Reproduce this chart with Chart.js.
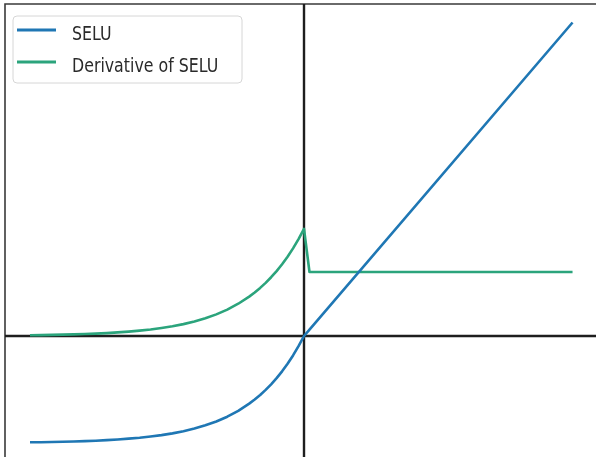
<!DOCTYPE html>
<html>
<head>
<meta charset="utf-8">
<script src="https://cdn.jsdelivr.net/npm/chart.js@4/dist/chart.umd.min.js"></script>
<style>
html,body{margin:0;padding:0;background:#fff;overflow:hidden;}
#wrap{width:596px;height:457px;position:relative;}
</style>
</head>
<body>
<div id="wrap"><canvas id="c" width="596" height="457"></canvas></div>
<script>
const xValues = [-5.0,-4.8,-4.6,-4.4,-4.2,-4.0,-3.8,-3.6,-3.4,-3.2,-3.0,-2.8,-2.6,-2.4,-2.2,-2.0,-1.8,-1.6,-1.4,-1.2,-1.0,-0.9,-0.8,-0.7,-0.6,-0.5,-0.4,-0.3,-0.2,-0.1,0.0,0.1,4.9];
const seluValues = [-1.746,-1.744,-1.740,-1.736,-1.732,-1.726,-1.719,-1.710,-1.699,-1.686,-1.671,-1.651,-1.628,-1.599,-1.563,-1.520,-1.467,-1.403,-1.325,-1.229,-1.111,-1.043,-0.968,-0.885,-0.793,-0.692,-0.580,-0.456,-0.319,-0.167,0.0,0.105,5.148];
const derivValues = [0.012,0.014,0.018,0.022,0.026,0.032,0.039,0.048,0.059,0.072,0.088,0.107,0.131,0.159,0.195,0.238,0.291,0.355,0.434,0.530,0.647,0.715,0.790,0.873,0.965,1.066,1.178,1.302,1.439,1.591,1.758,1.051,1.051];
const seriesLabels = ["SELU", "Derivative of SELU"];
const seriesColors = ["#1f77b4", "#2ba47c"];

const toPoints = ys => xValues.map((x, i) => ({x: x, y: ys[i]}));

const axesPlugin = {
  id: 'axesPlugin',
  beforeDatasetsDraw(chart) {
    const {ctx, chartArea, scales} = chart;
    ctx.save();
    ctx.strokeStyle = '#3a3a3a';
    ctx.lineWidth = 1.6;
    ctx.beginPath();
    ctx.moveTo(chartArea.left, chartArea.bottom + 2);
    ctx.lineTo(chartArea.left, chartArea.top);
    ctx.lineTo(chartArea.right + 2, chartArea.top);
    ctx.stroke();
    const x0 = scales.x.getPixelForValue(0);
    const y0 = scales.y.getPixelForValue(0);
    ctx.strokeStyle = '#1e1e1e';
    ctx.lineWidth = 2.4;
    ctx.beginPath();
    ctx.moveTo(chartArea.left, y0);
    ctx.lineTo(chartArea.right + 2, y0);
    ctx.moveTo(x0, chartArea.top);
    ctx.lineTo(x0, chartArea.bottom + 2);
    ctx.stroke();
    ctx.restore();
  }
};

const legendPlugin = {
  id: 'legendPlugin',
  afterDraw(chart) {
    const ctx = chart.ctx;
    ctx.save();
    const bx = 13, by = 16, bw = 229, bh = 67, r = 4;
    ctx.beginPath();
    ctx.moveTo(bx + r, by);
    ctx.arcTo(bx + bw, by, bx + bw, by + bh, r);
    ctx.arcTo(bx + bw, by + bh, bx, by + bh, r);
    ctx.arcTo(bx, by + bh, bx, by, r);
    ctx.arcTo(bx, by, bx + bw, by, r);
    ctx.closePath();
    ctx.fillStyle = 'rgba(255,255,255,0.85)';
    ctx.fill();
    ctx.strokeStyle = '#d6d6d6';
    ctx.lineWidth = 1;
    ctx.stroke();
    chart.data.datasets.forEach((ds, i) => {
      const ly = 30 + i * 32;
      ctx.strokeStyle = ds.borderColor;
      ctx.lineWidth = 3;
      ctx.beginPath();
      ctx.moveTo(17, ly);
      ctx.lineTo(56, ly);
      ctx.stroke();
      ctx.save();
      ctx.translate(72, ly + 10);
      ctx.scale(0.79, 1);
      ctx.fillStyle = '#2a2a2a';
      ctx.font = '20px "DejaVu Sans"';
      ctx.textBaseline = 'alphabetic';
      ctx.fillText(ds.label, 0, 0);
      ctx.restore();
    });
    ctx.restore();
  }
};

new Chart(document.getElementById('c'), {
  type: 'line',
  data: {
    datasets: [
      {label: seriesLabels[0], data: toPoints(seluValues), borderColor: seriesColors[0], borderWidth: 2.6, pointRadius: 0, fill: false, tension: 0},
      {label: seriesLabels[1], data: toPoints(derivValues), borderColor: seriesColors[1], borderWidth: 2.6, pointRadius: 0, fill: false, tension: 0}
    ]
  },
  options: {
    responsive: false,
    animation: false,
    devicePixelRatio: 1,
    layout: {padding: {left: 5, top: 4, right: 0, bottom: 0}},
    plugins: {legend: {display: false}, tooltip: {enabled: false}},
    scales: {
      x: {type: 'linear', min: -5.456, max: 5.328, display: false},
      y: {type: 'linear', min: -1.987, max: 5.452, display: false}
    },
    elements: {line: {borderCapStyle: 'butt', borderJoinStyle: 'round'}}
  },
  plugins: [axesPlugin, legendPlugin]
});
</script>
</body>
</html>
